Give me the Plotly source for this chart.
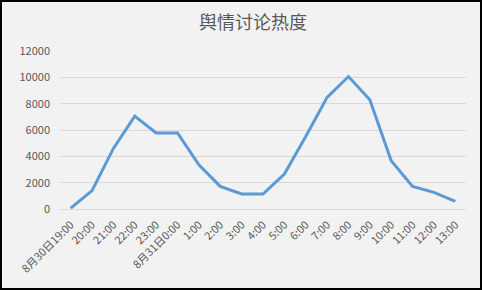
import plotly.graph_objects as go

categories = ["8月30日19:00", "20:00", "21:00", "22:00", "23:00", "8月31日0:00",
              "1:00", "2:00", "3:00", "4:00", "5:00", "6:00", "7:00", "8:00",
              "9:00", "10:00", "11:00", "12:00", "13:00"]
values = [60, 1400, 4600, 7050, 5780, 5780, 3360, 1720, 1140, 1140,
          2650, 5500, 8480, 10060, 8300, 3660, 1720, 1260, 580]
y_ticks = [0, 2000, 4000, 6000, 8000, 10000, 12000]
y_tick_text = ["0", "2000", "4000", "6000", "8000", "10000", "12000"]
title_text = "舆情讨论热度"

W, H = 482, 290
ml, mr, mt, mb = 60, 16, 51, 81
pw, ph = W - ml - mr, H - mt - mb

fig = go.Figure()
fig.add_trace(go.Scatter(
    x=categories, y=values, mode="lines",
    line=dict(color="#5b9bd5", width=3, shape="linear"),
    hoverinfo="x+y",
))

font_family = "Noto Sans CJK SC, Liberation Sans, sans-serif"
fig.update_layout(
    width=W, height=H,
    margin=dict(l=ml, r=mr, t=mt, b=mb),
    paper_bgcolor="#f2f2f2", plot_bgcolor="#f2f2f2",
    showlegend=False,
    font=dict(family=font_family, color="#595959", size=11),
    title=dict(text=title_text, x=253 / W, xanchor="center", y=1 - 23 / H, yanchor="middle",
               font=dict(size=18, color="#595959", family=font_family)),
    xaxis=dict(type="category", tickangle=-45, showgrid=False,
               showline=True, linecolor="#d9d9d9", linewidth=1,
               ticks="", ticklabelstandoff=4,
               tickfont=dict(size=11, color="#595959"),
               range=[-0.5, len(categories) - 0.5], fixedrange=True),
    yaxis=dict(range=[0, 12000], tickvals=y_ticks, ticktext=y_tick_text,
               showgrid=True, gridcolor="#d9d9d9", gridwidth=1, zeroline=False,
               showline=False, ticks="", ticklabelstandoff=9,
               tickfont=dict(size=11, color="#595959"), fixedrange=True),
    shapes=[dict(type="rect", xref="paper", yref="paper",
                 x0=(-ml + 1) / pw, x1=1 + (mr - 1) / pw,
                 y0=(-mb + 1) / ph, y1=1 + (mt - 1) / ph,
                 line=dict(color="#000000", width=2), layer="above")],
)

fig.write_html("out.html")
